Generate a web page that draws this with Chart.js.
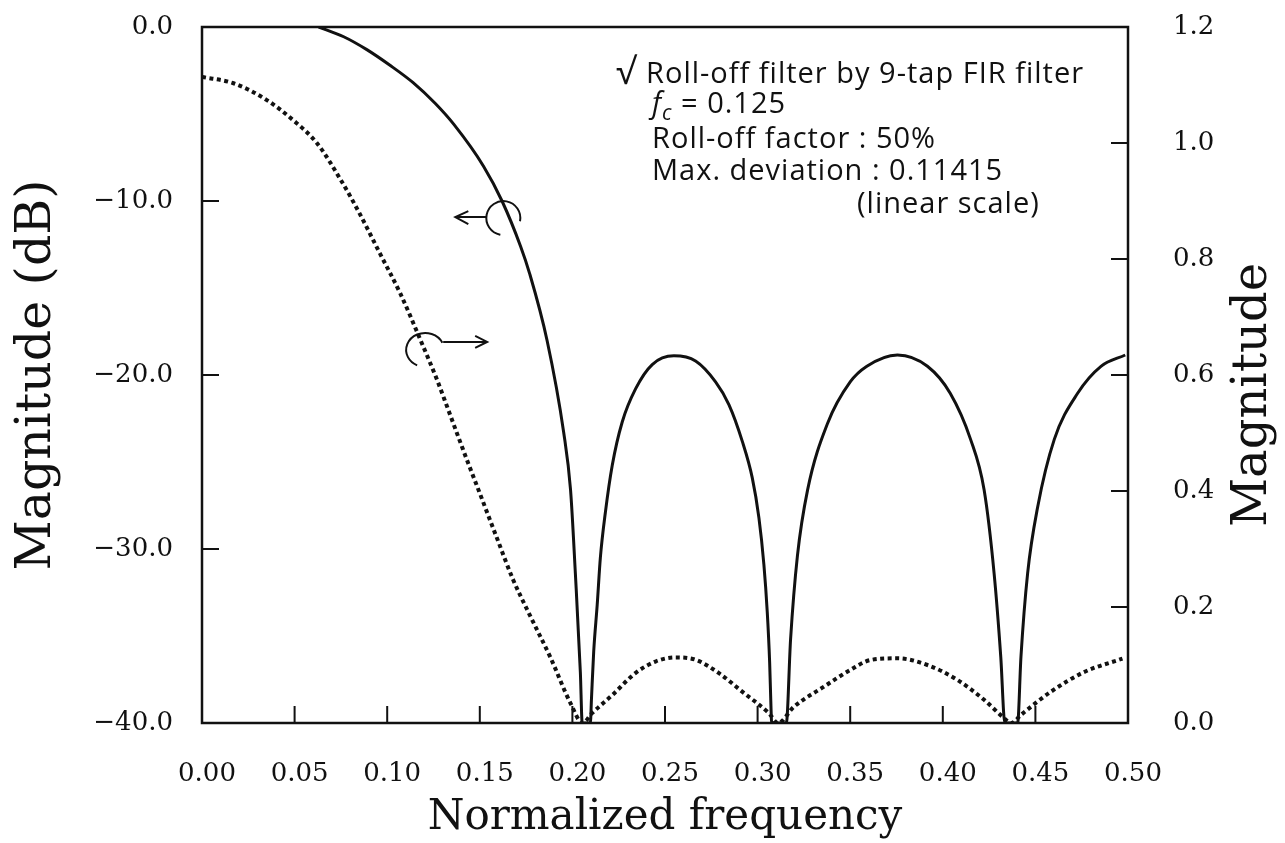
<!DOCTYPE html>
<html>
<head>
<meta charset="utf-8">
<script src="https://cdn.jsdelivr.net/npm/chart.js@4/dist/chart.umd.min.js"></script>
<style>
  html, body { margin: 0; padding: 0; background: #fff; }
</style>
</head>
<body>
<canvas id="chart" width="1285" height="843"></canvas>
<script>
// magnitude in dB (left axis)
const freqDb = [0.063, 0.0765, 0.089, 0.1015, 0.114, 0.126, 0.136, 0.152, 0.162, 0.172, 0.177,
  0.1863, 0.1953, 0.199, 0.2016, 0.2043, 0.2053, 0.2097, 0.2103, 0.2115, 0.2134, 0.2151,
  0.2178, 0.2215, 0.2269, 0.2341, 0.2431, 0.2548, 0.2665, 0.2773, 0.2845, 0.2917, 0.2971,
  0.3007, 0.3034, 0.3052, 0.3065, 0.3072, 0.3076, 0.3155, 0.3178, 0.3215, 0.327, 0.3377,
  0.350, 0.359, 0.3755, 0.3917, 0.404, 0.415, 0.4223, 0.4277, 0.4313, 0.4335, 0.4404,
  0.4422, 0.4458, 0.4512, 0.4602, 0.4728, 0.4854, 0.4985];
const magDb = [0, -0.56, -1.3, -2.2, -3.2, -4.4, -5.6, -8.0, -10.0, -12.6, -14.2,
  -18.0, -23.3, -26.6, -31.4, -37.1, -40, -40, -38.6, -35.9, -33.2, -30.5,
  -27.9, -25.2, -22.7, -20.8, -19.4, -18.9, -19.2, -20.4, -21.7, -23.8, -25.9,
  -28.2, -30.9, -33.6, -36.5, -39.0, -40, -40, -35.2, -30.4, -26.6, -22.8,
  -20.4, -19.5, -18.85, -19.5, -21.05, -23.7, -26.6, -31.4, -36.2, -40, -40,
  -36.2, -31.4, -27.6, -23.7, -21.05, -19.5, -18.85];

// linear magnitude (right axis)
const freqLin = [0, 0.017, 0.035, 0.049, 0.062, 0.075, 0.085, 0.096, 0.107, 0.118, 0.127,
  0.131, 0.141, 0.150, 0.159, 0.168, 0.177, 0.188, 0.199, 0.2055, 0.2106, 0.2215, 0.234,
  0.2449, 0.2557, 0.2665, 0.2791, 0.2917, 0.3061, 0.311, 0.3196, 0.336, 0.350, 0.361,
  0.3755, 0.3917, 0.408, 0.4223, 0.4322, 0.437, 0.4422, 0.4584, 0.4764, 0.497];
const magLin = [1.114, 1.103, 1.074, 1.040, 1.000, 0.936, 0.879, 0.810, 0.741, 0.660, 0.591,
  0.557, 0.471, 0.396, 0.321, 0.247, 0.186, 0.114, 0.034, 0, 0.017, 0.048, 0.086,
  0.106, 0.113, 0.109, 0.086, 0.054, 0.017, 0, 0.028, 0.063, 0.0914, 0.1086,
  0.1115, 0.100, 0.074, 0.040, 0.011, 0, 0.014, 0.054, 0.088, 0.111];

const xTicks = [0, 0.05, 0.10, 0.15, 0.20, 0.25, 0.30, 0.35, 0.40, 0.45, 0.50];
const dbTicks = [0, -10, -20, -30, -40];
const linTicks = [0, 0.2, 0.4, 0.6, 0.8, 1.0, 1.2];

const noteLines = [
  'Roll-off filter by 9-tap FIR filter',
  '= 0.125',
  'Roll-off factor : 50%',
  'Max. deviation : 0.11415',
  '(linear scale)'
];

const serif = 'DejaVu Serif';
const ink = '#111';

function toPoints(xs, ys) {
  return xs.map((x, i) => ({ x: x, y: ys[i] }));
}

function fixedTicks(list) {
  return scale => { scale.ticks = list.map(v => ({ value: v })); };
}

function fitWidth(w) {
  return s => {
    s.width = w;
    s.paddingTop = 0;
    s.paddingBottom = 0;
  };
}

const framePlugin = {
  id: 'frame',
  afterDraw(chart) {
    const { ctx, chartArea: a, scales } = chart;
    ctx.save();
    ctx.strokeStyle = ink;
    ctx.lineWidth = 2.5;
    ctx.strokeRect(a.left, a.top, a.right - a.left, a.bottom - a.top);

    // inward tick marks
    const len = 17;
    ctx.lineWidth = 2;
    ctx.beginPath();
    xTicks.slice(1, -1).forEach(v => {
      const px = scales.x.getPixelForValue(v);
      ctx.moveTo(px, a.bottom);
      ctx.lineTo(px, a.bottom - len);
    });
    dbTicks.slice(1, -1).forEach(v => {
      const py = scales.y.getPixelForValue(v);
      ctx.moveTo(a.left, py);
      ctx.lineTo(a.left + len, py);
    });
    linTicks.slice(1, -1).forEach(v => {
      const py = scales.y2.getPixelForValue(v);
      ctx.moveTo(a.right, py);
      ctx.lineTo(a.right - len, py);
    });
    ctx.stroke();

    // right axis title reads bottom to top
    ctx.fillStyle = ink;
    ctx.font = '48px "' + serif + '"';
    ctx.textAlign = 'center';
    ctx.textBaseline = 'middle';
    ctx.translate(a.right + 126, (a.top + a.bottom) / 2 + 20);
    ctx.rotate(-Math.PI / 2);
    ctx.fillText('Magnitude', 0, 0);
    ctx.restore();
  }
};

const notePlugin = {
  id: 'notes',
  afterDraw(chart) {
    const { ctx, chartArea: a, scales } = chart;
    const x0 = scales.x.getPixelForValue(0.243);
    const top = a.top;
    ctx.save();
    ctx.fillStyle = ink;
    ctx.textBaseline = 'alphabetic';
    ctx.textAlign = 'left';
    ctx.letterSpacing = '1px';
    const sans = '"Open Sans", "Noto Sans", sans-serif';

    ctx.font = '36px ' + sans;
    ctx.fillText('\u221A', x0 - 36, top + 57);
    ctx.font = '29px ' + sans;
    ctx.fillText(noteLines[0], x0 - 6, top + 56);

    ctx.font = 'italic 29px ' + sans;
    ctx.fillText('f', x0, top + 86);
    ctx.font = 'italic 21px ' + sans;
    ctx.fillText('c', x0 + 10, top + 93);
    ctx.font = '29px ' + sans;
    ctx.fillText(noteLines[1], x0 + 29, top + 86);

    ctx.fillText(noteLines[2], x0, top + 121);
    ctx.fillText(noteLines[3], x0, top + 153);
    ctx.fillText(noteLines[4], x0 + 205, top + 186);

    // curl + arrow markers telling which axis each curve uses
    ctx.letterSpacing = '0px';
    ctx.strokeStyle = ink;
    ctx.lineWidth = 2;
    const deg = Math.PI / 180;

    let cx = scales.x.getPixelForValue(0.1627);
    let cy = scales.y.getPixelForValue(-10.98);
    ctx.beginPath();
    ctx.arc(cx, cy, 17, 11 * deg, 100 * deg, true);
    ctx.stroke();
    ctx.beginPath();
    ctx.moveTo(cx - 17, cy - 1);
    ctx.lineTo(cx - 48, cy - 1);
    ctx.moveTo(cx - 35, cy - 7);
    ctx.lineTo(cx - 48, cy - 1);
    ctx.lineTo(cx - 35, cy + 6);
    ctx.stroke();

    cx = scales.x.getPixelForValue(0.1205);
    cy = scales.y.getPixelForValue(-18.56);
    ctx.beginPath();
    ctx.ellipse(cx, cy, 19, 17, 0, -25 * deg, 115 * deg, true);
    ctx.stroke();
    ctx.beginPath();
    ctx.moveTo(cx + 18, cy - 8);
    ctx.lineTo(cx + 62, cy - 8);
    ctx.moveTo(cx + 50, cy - 14);
    ctx.lineTo(cx + 62, cy - 8);
    ctx.lineTo(cx + 50, cy - 2);
    ctx.stroke();
    ctx.restore();
  }
};

const ctx = document.getElementById('chart').getContext('2d');

new Chart(ctx, {
  type: 'line',
  data: {
    datasets: [
      {
        label: 'Magnitude (dB)',
        data: toPoints(freqDb, magDb),
        yAxisID: 'y',
        borderColor: ink,
        borderWidth: 3,
        pointRadius: 0,
        cubicInterpolationMode: 'monotone'
      },
      {
        label: 'Magnitude',
        data: toPoints(freqLin, magLin),
        yAxisID: 'y2',
        borderColor: ink,
        borderWidth: 4,
        borderDash: [4, 3.5],
        pointRadius: 0,
        cubicInterpolationMode: 'monotone'
      }
    ]
  },
  options: {
    responsive: false,
    devicePixelRatio: 1,
    animation: false,
    layout: { padding: { top: 27, left: 0, right: 0, bottom: 0 } },
    plugins: {
      legend: { display: false },
      tooltip: { enabled: false }
    },
    scales: {
      x: {
        type: 'linear',
        min: 0,
        max: 0.5,
        afterBuildTicks: fixedTicks(xTicks),
        afterFit: s => { s.height = 120; },
        grid: { display: false },
        border: { display: false },
        ticks: {
          callback: v => v.toFixed(2),
          color: ink,
          font: { family: serif, size: 26 },
          padding: 28,
          labelOffset: 5,
          maxRotation: 0,
          autoSkip: false
        },
        title: {
          display: true,
          text: 'Normalized frequency',
          color: ink,
          font: { family: serif, size: 42 },
          padding: 0
        }
      },
      y: {
        position: 'left',
        min: -40,
        max: 0,
        afterBuildTicks: fixedTicks(dbTicks),
        afterFit: fitWidth(202),
        grid: { display: false },
        border: { display: false },
        ticks: {
          callback: v => (v < 0 ? '\u2212' : '') + Math.abs(v).toFixed(1),
          color: ink,
          font: { family: serif, size: 26 },
          padding: 21
        },
        title: {
          display: true,
          text: 'Magnitude (dB)',
          color: ink,
          font: { family: serif, size: 49 },
          padding: { top: 8 }
        }
      },
      y2: {
        position: 'right',
        min: 0,
        max: 1.2,
        afterBuildTicks: fixedTicks(linTicks),
        afterFit: fitWidth(157),
        grid: { display: false },
        border: { display: false },
        ticks: {
          callback: v => v.toFixed(1),
          color: ink,
          font: { family: serif, size: 26 },
          padding: 37
        }
      }
    }
  },
  plugins: [framePlugin, notePlugin]
});
</script>
</body>
</html>
